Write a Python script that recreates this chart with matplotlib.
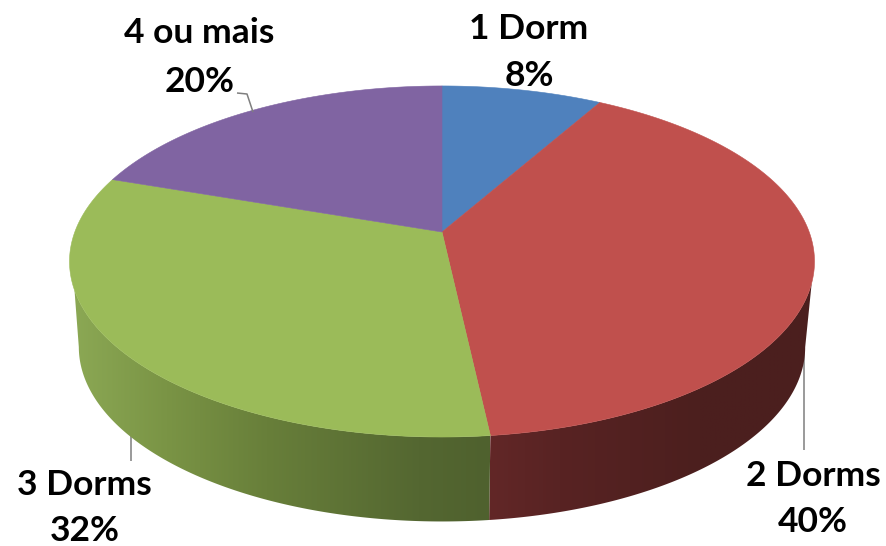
import numpy as np
import matplotlib
matplotlib.use("Agg")
import matplotlib.pyplot as plt
from matplotlib.patches import Polygon
from matplotlib.colors import to_rgb

categories = ["1 Dorm", "2 Dorms", "3 Dorms", "4 ou mais"]
values = [8.2, 40.05, 32, 19.75]
percent_labels = ["8%", "40%", "32%", "20%"]

top_colors = ["#4F81BD", "#C0504D", "#9BBB59", "#8064A2"]
side_stops = {
    1: ([490, 560, 700, 810], ["#622727", "#582323", "#4C1F1E", "#4B1F1F"]),
    2: ([70, 167, 267, 420, 490], ["#8CA955", "#7A9445", "#687F3A", "#546731", "#4F612E"]),
}
label_pos = [((529, 29), (529, 76)), ((813, 476), (813, 522)),
             ((84, 485), (85, 531)), ((199, 33), (200, 82))]
leaders = [([237, 247, 253], [93, 94, 112]), ([804.5, 804.5], [347, 450]), ([131.5, 131.5], [432, 461])]

plt.rcParams["font.family"] = ["Lato", "DejaVu Sans"]
fig = plt.figure(figsize=(8.86, 5.46), dpi=100, facecolor="white")
ax = fig.add_axes([0, 0, 1, 1])


def rim(theta):
    """Perspective projection of the unit circle; theta clockwise from the top."""
    x, y = np.sin(theta), np.cos(theta)
    w = 1 + 0.168 * y
    return 442 + 367.2 * x / w, (232 - 131.6 * y) / w


def lower(theta):
    X, Y = rim(theta)
    return 442 + (X - 442) * 0.975, 347 + (Y - 261.5) * 0.994


fractions = np.cumsum([0] + values) / np.sum(values)
angles = 2 * np.pi * fractions

# silhouette tangent points of the wall, as rim angles
rim_lo, rim_hi = np.radians(106.5), np.radians(251.2)
low_lo, low_hi = np.radians(99.7), np.radians(260.3)

# side wall: a horizontal gradient clipped to the visible band of each slice
for i in range(len(values)):
    if i not in side_stops:
        continue
    xs, cs = side_stops[i]
    rgb = np.array([to_rgb(c) for c in cs])
    th_t = np.linspace(max(angles[i], rim_lo), min(angles[i + 1], rim_hi), 300)
    th_b = np.linspace(max(angles[i], low_lo), min(angles[i + 1], low_hi), 300)
    tx, ty = rim(th_t)
    bx, by = lower(th_b)
    poly = Polygon(np.c_[np.r_[tx, bx[::-1]], np.r_[ty, by[::-1]]], closed=True,
                   transform=ax.transData, fc="none", ec="none")
    ax.add_patch(poly)
    x0, x1 = min(tx.min(), bx.min()), max(tx.max(), bx.max())
    grid = np.linspace(x0, x1, 400)
    img = np.stack([np.interp(grid, xs, rgb[:, k]) for k in range(3)], axis=-1)[None, :, :]
    im = ax.imshow(img, extent=(x0, x1, by.max() + 1, ty.min() - 1), aspect="auto", zorder=2,
                   interpolation="bilinear")
    im.set_clip_path(poly)

# top faces
for i in range(len(values)):
    th = np.linspace(angles[i], angles[i + 1], 200)
    X, Y = rim(th)
    ax.fill(np.r_[442, X], np.r_[232, Y], color=top_colors[i], lw=0.4, zorder=3)

for lx, ly in leaders:
    ax.plot(lx, ly, color="#7F7F7F", lw=1.1, zorder=1 if len(lx) == 2 else 4, solid_capstyle="butt")

for cat, pct, (p1, p2) in zip(categories, percent_labels, label_pos):
    ax.text(p1[0], p1[1], cat, ha="center", va="center", fontsize=25.5, fontweight="bold", color="black", zorder=5)
    ax.text(p2[0], p2[1], pct, ha="center", va="center", fontsize=25.5, fontweight="bold", color="black", zorder=5)

ax.set_xlim(0, 886)
ax.set_ylim(546, 0)
ax.axis("off")
fig.savefig("out.png", dpi=100, facecolor="white")
